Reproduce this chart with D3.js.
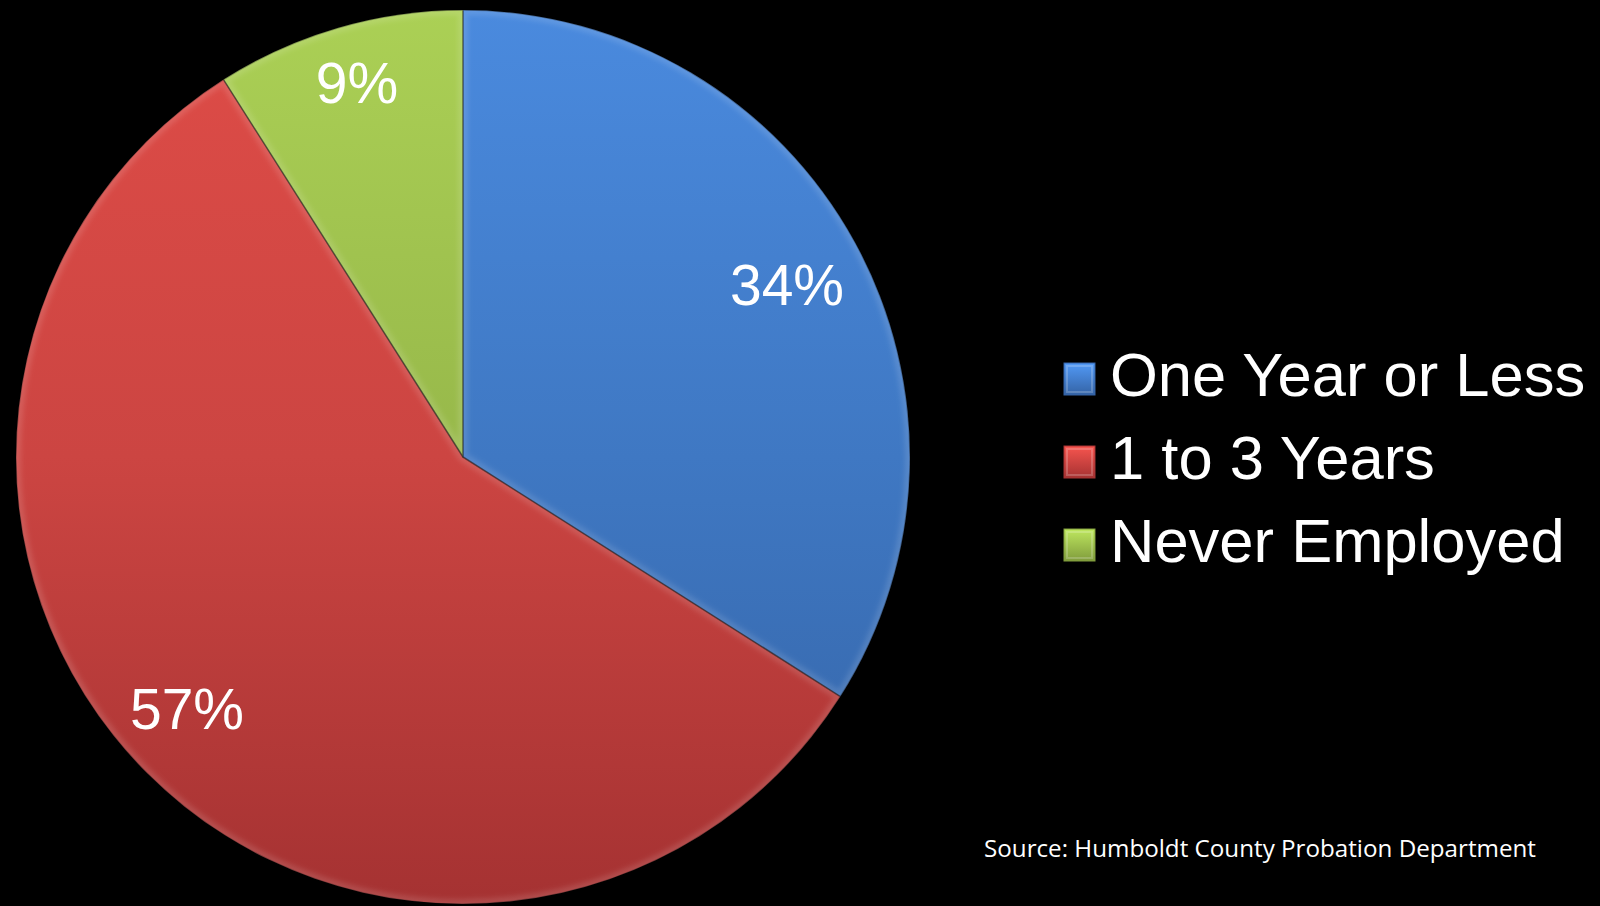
<!DOCTYPE html>
<html>
<head>
<meta charset="utf-8">
<script src="https://cdn.jsdelivr.net/npm/d3@7"></script>
<style>
  html, body { margin: 0; padding: 0; background: #000; }
  svg { display: block; }
</style>
</head>
<body>
<svg id="chart" width="1600" height="906"></svg>
<script>
// Share of probationers by time since last employment
const categories = ["One Year or Less", "1 to 3 Years", "Never Employed"];
const values = [34, 57, 9];
const valueLabels = ["34%", "57%", "9%"];
const topColors = ["#4a8ade", "#de4c47", "#abd055"];
const midColors = ["#3f78c3", "#cc4542", "#97b84a"];
const bottomColors = ["#3463a5", "#a53232", "#809c3c"];
const sourceNote = "Source: Humboldt County Probation Department";

const W = 1600, H = 906;
const cx = 463, cy = 457, R = 447;

const svg = d3.select("#chart");
svg.append("rect").attr("width", W).attr("height", H).attr("fill", "#000");

const defs = svg.append("defs");

// Vertical shading per slice, spanning the full pie height (pie-local coordinates)
categories.forEach((c, i) => {
  const g = defs.append("linearGradient")
    .attr("id", "grad" + i)
    .attr("gradientUnits", "userSpaceOnUse")
    .attr("x1", 0).attr("y1", -R)
    .attr("x2", 0).attr("y2", R);
  g.append("stop").attr("offset", "0%").attr("stop-color", topColors[i]);
  g.append("stop").attr("offset", "50%").attr("stop-color", midColors[i]);
  g.append("stop").attr("offset", "100%").attr("stop-color", bottomColors[i]);

  const lg = defs.append("linearGradient")
    .attr("id", "lgrad" + i)
    .attr("x1", 0).attr("y1", 0).attr("x2", 0).attr("y2", 1);
  lg.append("stop").attr("offset", "0%").attr("stop-color", d3.color(topColors[i]).brighter(0.3));
  lg.append("stop").attr("offset", "100%").attr("stop-color", bottomColors[i]);
});

const blur = defs.append("filter").attr("id", "soft")
  .attr("x", "-10%").attr("y", "-10%").attr("width", "120%").attr("height", "120%");
blur.append("feGaussianBlur").attr("stdDeviation", 2.5);

const color = d3.scaleOrdinal().domain(categories).range(categories.map((c, i) => `url(#grad${i})`));

const pie = d3.pie().sort(null).value(d => d.value);
const data = pie(categories.map((c, i) => ({ name: c, value: values[i], label: valueLabels[i], idx: i })));
const arc = d3.arc().innerRadius(0).outerRadius(R);

const pieG = svg.append("g").attr("transform", `translate(${cx},${cy})`);

// Clip paths so the bevel highlight stays inside each slice
data.forEach((d, i) => {
  defs.append("clipPath").attr("id", "clip" + i)
    .append("path")
    .attr("transform", `translate(${cx},${cy})`)
    .attr("d", arc(d));
});

pieG.selectAll("path.slice")
  .data(data)
  .join("path")
  .attr("class", "slice")
  .attr("d", arc)
  .attr("fill", d => color(d.data.name));

// Soft bevelled rim on each slice
const bevel = svg.append("g");
data.forEach((d, i) => {
  bevel.append("g")
    .attr("clip-path", `url(#clip${i})`)
    .append("path")
    .attr("transform", `translate(${cx},${cy})`)
    .attr("d", arc(d))
    .attr("fill", "none")
    .attr("stroke", "#ffffff")
    .attr("stroke-opacity", 0.12)
    .attr("stroke-width", 10)
    .attr("stroke-linejoin", "round")
    .attr("filter", "url(#soft)");
});

// Thin dark seams between slices and round the rim
pieG.selectAll("path.seam")
  .data(data)
  .join("path")
  .attr("class", "seam")
  .attr("d", arc)
  .attr("fill", "none")
  .attr("stroke", "#000")
  .attr("stroke-opacity", 0.35)
  .attr("stroke-width", 1.5)
  .attr("stroke-linejoin", "round");

// Slice value labels
const labelPos = [
  [787, 285],
  [187, 709],
  [357, 83]
];
svg.append("g").selectAll("text")
  .data(data)
  .join("text")
  .attr("x", d => labelPos[d.data.idx][0])
  .attr("y", d => labelPos[d.data.idx][1] + 20)
  .attr("text-anchor", "middle")
  .attr("fill", "#fff")
  .attr("font-family", "'Liberation Sans', Arial, sans-serif")
  .attr("font-size", 57)
  .text(d => d.data.label);

// Legend
const legendY = d3.scalePoint().domain(categories).range([396, 562]);
const legend = svg.append("g");
const items = legend.selectAll("g").data(categories).join("g")
  .attr("transform", d => `translate(0,${legendY(d)})`);
items.append("rect")
  .attr("x", 1064).attr("y", -33).attr("width", 31).attr("height", 32)
  .attr("fill", (d, i) => `url(#lgrad${i})`)
  .attr("stroke", (d, i) => bottomColors[i]).attr("stroke-width", 1);
items.append("rect")
  .attr("x", 1067).attr("y", -30).attr("width", 25).attr("height", 26)
  .attr("fill", "none")
  .attr("stroke", "#fff").attr("stroke-opacity", 0.2).attr("stroke-width", 2);
items.append("text")
  .attr("x", 1110).attr("y", 0)
  .attr("fill", "#fff")
  .attr("font-family", "'Liberation Sans', Arial, sans-serif")
  .attr("font-size", 61.5)
  .text(d => d);

// Source note
svg.append("text")
  .attr("x", 984).attr("y", 857)
  .attr("fill", "#fff")
  .attr("font-family", "'Open Sans', 'Noto Sans', sans-serif")
  .attr("font-size", 24.2)
  .text(sourceNote);
</script>
</body>
</html>
